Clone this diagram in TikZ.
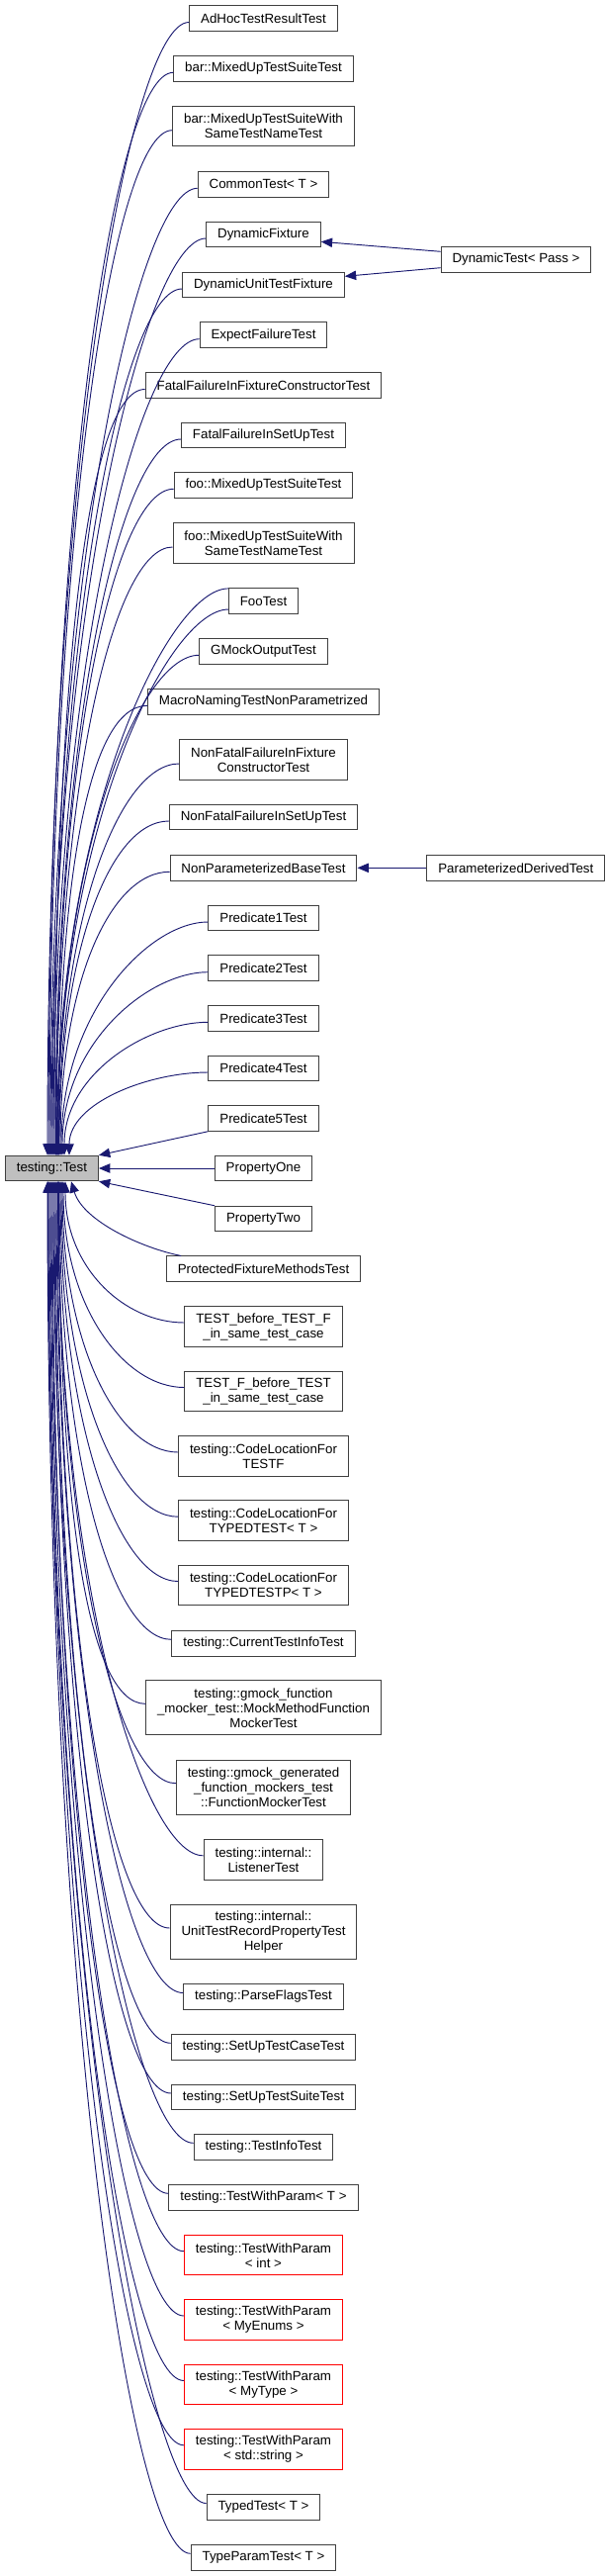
\documentclass[tikz,border=0pt]{standalone}
\usepackage{fontspec}
\setmainfont{Liberation Sans}
\usetikzlibrary{arrows.meta}
\definecolor{edgec}{RGB}{25,25,112}
\definecolor{rootc}{RGB}{191,191,191}
\definecolor{boxc}{RGB}{64,64,64}
\tikzset{
  cls/.style={draw=boxc, fill=white, line width=0.75pt, align=center,
    inner xsep=8.6pt, inner ysep=2pt, minimum height=19.1pt,
    font=\fontsize{10pt}{11.25pt}\selectfont},
  cls2/.style={cls, minimum height=30.4pt},
  cls3/.style={cls, minimum height=41.2pt},
  part/.style={cls2, draw=red},
  root/.style={cls, fill=rootc},
  inh/.style={<-, draw=edgec, line width=0.7pt}
}
\begin{document}
\begin{tikzpicture}[x=0.75pt,y=-0.75pt,>={Triangle[length=8.5pt,width=7pt]}]
  \useasboundingbox (0,0) rectangle (613,2604);
  \def\mx{266.5}
  % base class
  \node[root] (test) at (52.4,1181) {testing::Test};
  % derived classes above the base
  \node[cls] (adhoc) at (\mx,18.5) {AdHocTestResultTest};
  \node[cls] (barmix) at (\mx,69.3) {bar::MixedUpTestSuiteTest};
  \node[cls2] (barsame) at (\mx,127.7) {bar::MixedUpTestSuiteWith\\SameTestNameTest};
  \node[cls] (common) at (\mx,186.3) {CommonTest< T >};
  \node[cls] (dynfix) at (\mx,237) {DynamicFixture};
  \node[cls] (dynunit) at (\mx,288) {DynamicUnitTestFixture};
  \node[cls] (expect) at (\mx,338.7) {ExpectFailureTest};
  \node[cls] (fatalctor) at (\mx,389.5) {FatalFailureInFixtureConstructorTest};
  \node[cls] (fatalsetup) at (\mx,440) {FatalFailureInSetUpTest};
  \node[cls] (foomix) at (\mx,490.3) {foo::MixedUpTestSuiteTest};
  \node[cls2] (foosame) at (\mx,549) {foo::MixedUpTestSuiteWith\\SameTestNameTest};
  \node[cls] (footest) at (\mx,607.5) {FooTest};
  \node[cls] (gmockout) at (\mx,658.3) {GMockOutputTest};
  \node[cls] (macro) at (\mx,709.3) {MacroNamingTestNonParametrized};
  \node[cls2] (nonfatalctor) at (\mx,768) {NonFatalFailureInFixture\\ConstructorTest};
  \node[cls] (nonfatalsetup) at (\mx,826) {NonFatalFailureInSetUpTest};
  \node[cls] (nonparam) at (\mx,877.3) {NonParameterizedBaseTest};
  \node[cls] (pred1) at (\mx,928) {Predicate1Test};
  \node[cls] (pred2) at (\mx,978.7) {Predicate2Test};
  \node[cls] (pred3) at (\mx,1029.3) {Predicate3Test};
  \node[cls] (pred4) at (\mx,1080) {Predicate4Test};
  \node[cls] (pred5) at (\mx,1130.5) {Predicate5Test};
  \node[cls] (propone) at (\mx,1181) {PropertyOne};
  % derived classes below the base
  \node[cls] (proptwo) at (\mx,1232) {PropertyTwo};
  \node[cls] (protected) at (\mx,1282.7) {ProtectedFixtureMethodsTest};
  \node[cls2] (testbefore) at (\mx,1341) {TEST\_before\_TEST\_F\\\_in\_same\_test\_case};
  \node[cls2] (testfbefore) at (\mx,1406.5) {TEST\_F\_before\_TEST\\\_in\_same\_test\_case};
  \node[cls2] (cltestf) at (\mx,1472) {testing::CodeLocationFor\\TESTF};
  \node[cls2] (cltyped) at (\mx,1537.2) {testing::CodeLocationFor\\TYPEDTEST< T >};
  \node[cls2] (cltypedp) at (\mx,1602.5) {testing::CodeLocationFor\\TYPEDTESTP< T >};
  \node[cls] (current) at (\mx,1661.3) {testing::CurrentTestInfoTest};
  \node[cls3] (gmockfn) at (\mx,1726.3) {testing::gmock\_function\\\_mocker\_test::MockMethodFunction\\MockerTest};
  \node[cls3] (gmockgen) at (\mx,1806.7) {testing::gmock\_generated\\\_function\_mockers\_test\\::FunctionMockerTest};
  \node[cls2] (listener) at (\mx,1879.8) {testing::internal::\\ListenerTest};
  \node[cls3] (unitrec) at (\mx,1953) {testing::internal::\\UnitTestRecordPropertyTest\\Helper};
  \node[cls] (parseflags) at (\mx,2018.5) {testing::ParseFlagsTest};
  \node[cls] (setupcase) at (\mx,2069.3) {testing::SetUpTestCaseTest};
  \node[cls] (setupsuite) at (\mx,2120) {testing::SetUpTestSuiteTest};
  \node[cls] (testinfo) at (\mx,2170.3) {testing::TestInfoTest};
  \node[cls] (twp) at (\mx,2221.3) {testing::TestWithParam< T >};
  \node[part] (twpint) at (\mx,2279.7) {testing::TestWithParam\\< int >};
  \node[part] (twpenum) at (\mx,2345) {testing::TestWithParam\\< MyEnums >};
  \node[part] (twptype) at (\mx,2410.5) {testing::TestWithParam\\< MyType >};
  \node[part] (twpstr) at (\mx,2475.8) {testing::TestWithParam\\< std::string >};
  \node[cls] (typed) at (\mx,2534.5) {TypedTest< T >};
  \node[cls] (typeparam) at (\mx,2585.3) {TypeParamTest< T >};
  % second level
  \node[cls] (dyntest) at (522,262.3) {DynamicTest< Pass >};
  \node[cls] (paramderived) at (521.8,877.3) {ParameterizedDerivedTest};

  % edges into the top of the base: name/xshift(pt)/pull
  \foreach \nm/\sh/\dd in {adhoc/-3.3/690, barmix/-2.55/659, barsame/-1.8/624,
      common/-1.05/589, dynfix/-0.3/559, dynunit/0.45/528, expect/1.2/498,
      fatalctor/1.95/467, fatalsetup/2.7/437, foomix/3.1/407, foosame/3.45/371,
      gmockout/4.6/306, macro/4.95/275, nonfatalctor/5.3/240,
      nonfatalsetup/5.7/205, nonparam/6.45/174, pred1/7.2/144, pred2/7.95/114,
      pred3/9.45/83, pred4/13.2/53}
    \draw[inh] ([xshift=\sh pt]test.north) .. controls +(0,-\dd) and +(-60,0) .. ([yshift=-3pt]\nm.west);
  \draw[inh] ([xshift=3.8pt]test.north) .. controls +(0,-344) and +(-60,0) .. ([yshift=-0.5pt]footest.north west);
  \draw[inh] ([xshift=4.2pt]test.north) .. controls +(0,-331) and +(-60,0) .. ([yshift=3.5pt]footest.south west);
  \draw[inh] (test.north east) -- (pred5.south west);
  \draw[inh] (test.east) -- (propone.west);
  \draw[inh] (test.south east) -- (proptwo.north west);
  \draw[inh] ([xshift=14.7pt]test.south) .. controls +(12,40) and +(-40,-8) .. ([xshift=11.5pt]protected.north west);
  % edges into the bottom of the base
  \foreach \nm/\sh/\dd in {testbefore/10.2/88, testfbefore/8.7/128,
      cltestf/7.95/167, cltyped/7.2/206, cltypedp/6.45/245, current/5.7/280,
      gmockfn/5.3/319, gmockgen/4.95/368, listener/4.6/411, unitrec/4.2/455,
      parseflags/3.45/495, setupcase/2.7/525, setupsuite/1.95/556,
      testinfo/1.2/586, twp/0.45/616, twpint/-0.3/651, twpenum/-1.05/690,
      twptype/-1.8/730, twpstr/-2.55/769, typed/-2.9/804, typeparam/-3.3/835}
    \draw[inh] ([xshift=\sh pt]test.south) .. controls +(0,\dd) and +(-60,0) .. ([yshift=3pt]\nm.west);
  % second level edges
  \draw[inh] ([yshift=-5.5pt]dynfix.east) -- ([yshift=6pt]dyntest.west);
  \draw[inh] ([yshift=6.5pt]dynunit.east) -- ([yshift=-6.3pt]dyntest.west);
  \draw[inh] (nonparam.east) -- (paramderived.west);
\end{tikzpicture}
\end{document}
